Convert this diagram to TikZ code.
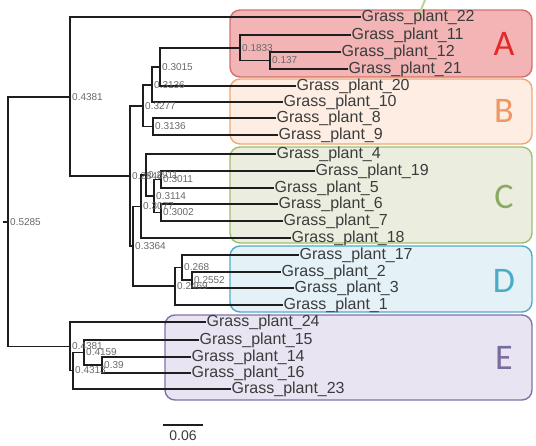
\documentclass[tikz,border=0pt]{standalone}
\usepackage{fontspec}
\setmainfont{Liberation Sans}
\newfontfamily\cladefont{Carlito}
\usepackage{tikz}
\usetikzlibrary{positioning}
\usepackage{xcolor}
\definecolor{treeline}{RGB}{30,30,30}
\definecolor{leaftext}{RGB}{60,60,60}
\definecolor{supgray}{RGB}{105,105,105}
\definecolor{afill}{RGB}{242,180,180}
\definecolor{adraw}{RGB}{214,112,112}
\definecolor{aletter}{RGB}{228,40,40}
\definecolor{bfill}{RGB}{253,237,226}
\definecolor{bdraw}{RGB}{238,168,120}
\definecolor{bletter}{RGB}{240,150,100}
\definecolor{cfill}{RGB}{235,238,223}
\definecolor{cdraw}{RGB}{160,190,112}
\definecolor{cletter}{RGB}{140,170,100}
\definecolor{dfill}{RGB}{228,241,247}
\definecolor{ddraw}{RGB}{80,172,198}
\definecolor{dletter}{RGB}{75,172,198}
\definecolor{efill}{RGB}{232,228,241}
\definecolor{edraw}{RGB}{130,112,170}
\definecolor{eletter}{RGB}{122,106,160}
\tikzstyle{branch} = [line width=1.6pt, color=treeline, line cap=rect]
\tikzstyle{leaf} = [anchor=west, inner sep=1.5pt, text=leaftext, font=\fontsize{16}{16}\selectfont]
\tikzstyle{support} = [anchor=west, inner sep=1pt, xshift=1pt, text=supgray, font=\fontsize{10}{10}\selectfont]
\tikzstyle{cladebox} = [rounded corners=10pt, line width=1.4pt]
\tikzstyle{cladeletter} = [font=\cladefont\fontsize{36}{36}\selectfont]

\begin{document}
\begin{tikzpicture}[x=1pt, y=-1pt]
\useasboundingbox (0,0) rectangle (536,445);
% Clade boxes
\draw[cladebox, draw=adraw, fill=afill] (230,10) rectangle (532,77);
\draw[cladebox, draw=bdraw, fill=bfill] (230,79) rectangle (532,144);
\draw[cladebox, draw=cdraw, fill=cfill] (230,147) rectangle (532,243);
\draw[cladebox, draw=ddraw, fill=dfill] (230,246) rectangle (532,312);
\draw[cladebox, draw=edraw, fill=efill] (165,315) rectangle (532,400);
\node[cladeletter, text=aletter] (lettA) at (504,44) {A};
\node[cladeletter, text=bletter] (lettB) at (504,111) {B};
\node[cladeletter, text=cletter] (lettC) at (504,197) {C};
\node[cladeletter, text=dletter] (lettD) at (504,281) {D};
\node[cladeletter, text=eletter] (lettE) at (504,358) {E};
\draw[line width=2pt, color=cdraw!70] (425,0) -- (418,17);

% Leaves
\node[leaf] (gp22) at (360,17) {Grass\_plant\_22};
\node[leaf] (gp11) at (350,35) {Grass\_plant\_11};
\node[leaf] (gp12) at (340,52) {Grass\_plant\_12};
\node[leaf] (gp21) at (347,69) {Grass\_plant\_21};
\node[leaf] (gp20) at (295,86) {Grass\_plant\_20};
\node[leaf] (gp10) at (282,102) {Grass\_plant\_10};
\node[leaf] (gp8) at (275,118) {Grass\_plant\_8};
\node[leaf] (gp9) at (277,135) {Grass\_plant\_9};
\node[leaf] (gp4) at (275,154) {Grass\_plant\_4};
\node[leaf] (gp19) at (314,171) {Grass\_plant\_19};
\node[leaf] (gp5) at (273,188) {Grass\_plant\_5};
\node[leaf] (gp6) at (277,204) {Grass\_plant\_6};
\node[leaf] (gp7) at (282,221) {Grass\_plant\_7};
\node[leaf] (gp18) at (290,238) {Grass\_plant\_18};
\node[leaf] (gp17) at (298,255) {Grass\_plant\_17};
\node[leaf] (gp2) at (280,272) {Grass\_plant\_2};
\node[leaf] (gp3) at (293,288) {Grass\_plant\_3};
\node[leaf] (gp1) at (282,305) {Grass\_plant\_1};
\node[leaf] (gp24) at (205,322) {Grass\_plant\_24};
\node[leaf] (gp15) at (198,340) {Grass\_plant\_15};
\node[leaf] (gp14) at (190,357) {Grass\_plant\_14};
\node[leaf] (gp16) at (190,373) {Grass\_plant\_16};
\node[leaf] (gp23) at (230,389) {Grass\_plant\_23};

% Internal nodes
\coordinate (stem) at (4,222);
\coordinate (root) at (8,222);
\coordinate (n1) at (70,97);
\coordinate (n2) at (130,176);
\coordinate (n3) at (143,106);
\coordinate (n7) at (152,85);
\coordinate (n6) at (160,67);
\coordinate (na) at (240,48);
\coordinate (n9) at (270,60.5);
\coordinate (n8) at (153,126.5);
\coordinate (n5) at (133,246);
\coordinate (nc) at (141,206.5);
\coordinate (c4) at (146,175);
\coordinate (c3) at (154,196);
\coordinate (c1) at (161,179.5);
\coordinate (c2) at (161,212.5);
\coordinate (nd) at (175,286);
\coordinate (d1) at (182,267.5);
\coordinate (d2) at (192,280);
\coordinate (ne) at (70,346.5);
\coordinate (e3) at (73,370.5);
\coordinate (e2) at (84,352.5);
\coordinate (e1) at (102,365);

% Branches
\draw[branch] (stem) -- (root);
\draw[branch] (root) |- (n1);
\draw[branch] (root) |- (ne);
\draw[branch] (n1) |- (gp22.west);
\draw[branch] (n1) |- (n2);
\draw[branch] (n2) |- (n3);
\draw[branch] (n2) |- (n5);
\draw[branch] (n3) |- (n7);
\draw[branch] (n3) |- (n8);
\draw[branch] (n7) |- (n6);
\draw[branch] (n7) |- (gp10.west);
\draw[branch] (n6) |- (na);
\draw[branch] (n6) |- (gp20.west);
\draw[branch] (na) |- (gp11.west);
\draw[branch] (na) |- (n9);
\draw[branch] (n9) |- (gp12.west);
\draw[branch] (n9) |- (gp21.west);
\draw[branch] (n8) |- (gp8.west);
\draw[branch] (n8) |- (gp9.west);
\draw[branch] (n5) |- (nc);
\draw[branch] (n5) |- (nd);
\draw[branch] (nc) |- (c4);
\draw[branch] (nc) |- (gp18.west);
\draw[branch] (c4) |- (gp4.west);
\draw[branch] (c4) |- (c3);
\draw[branch] (c3) |- (c1);
\draw[branch] (c3) |- (c2);
\draw[branch] (c1) |- (gp19.west);
\draw[branch] (c1) |- (gp5.west);
\draw[branch] (c2) |- (gp6.west);
\draw[branch] (c2) |- (gp7.west);
\draw[branch] (nd) |- (d1);
\draw[branch] (nd) |- (gp1.west);
\draw[branch] (d1) |- (gp17.west);
\draw[branch] (d1) |- (d2);
\draw[branch] (d2) |- (gp2.west);
\draw[branch] (d2) |- (gp3.west);
\draw[branch] (ne) |- (gp24.west);
\draw[branch] (ne) |- (e3);
\draw[branch] (e3) |- (e2);
\draw[branch] (e3) |- (gp23.west);
\draw[branch] (e2) |- (gp15.west);
\draw[branch] (e2) |- (e1);
\draw[branch] (e1) |- (gp14.west);
\draw[branch] (e1) |- (gp16.west);

% Support values
\foreach \n/\v in {root/0.5285, n1/0.4381, n2/0.2846, n3/0.3277, n7/0.3136, n6/0.3015,
  na/0.1833, n9/0.137, n8/0.3136, n5/0.3364, nc/0.3077, c4/0.2911, c3/0.3114,
  c1/0.3011, c2/0.3002, nd/0.2469, d1/0.268, d2/0.2552, ne/0.4381, e3/0.4313,
  e2/0.4159, e1/0.39}
  \node[support] (sv-\n) at (\n) {\v};

% Scale bar
\coordinate (sbl) at (163,425);
\coordinate (sbr) at (203,425);
\coordinate (sbmid) at (183,425);
\draw[line width=1.2pt, color=treeline] (sbl) -- (sbr);
\node[text=leaftext, font=\fontsize{14}{14}\selectfont, below=2pt of sbmid] (sblabel) {0.06};
\end{tikzpicture}
\end{document}
